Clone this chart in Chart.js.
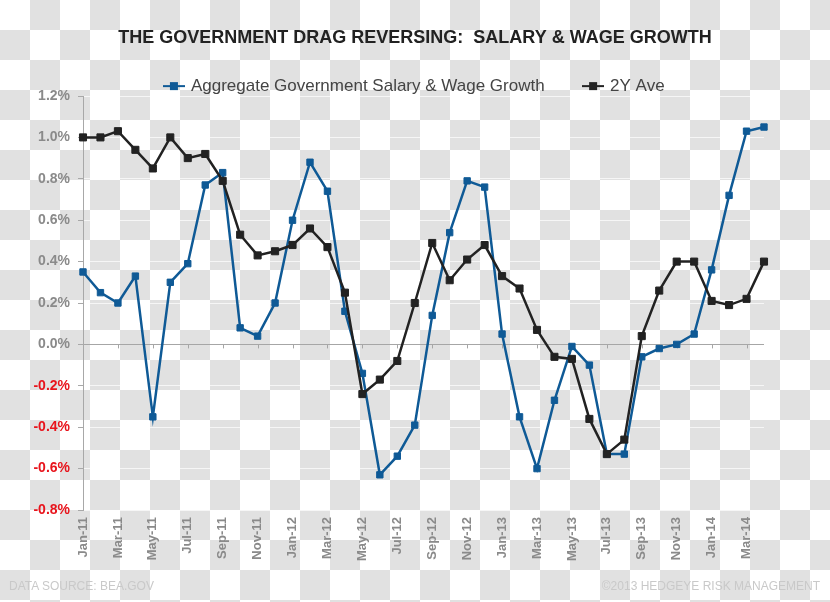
<!DOCTYPE html>
<html>
<head>
<meta charset="utf-8">
<title>Government Salary & Wage Growth</title>
<script src="https://cdn.jsdelivr.net/npm/chart.js@4.4.1/dist/chart.umd.min.js"></script>
<style>
  html, body { margin: 0; padding: 0; }
  body {
    width: 830px;
    height: 602px;
    position: relative;
    overflow: hidden;
    background-color: #fff;
    background-image: conic-gradient(#e1e1e1 0 25%, #fff 0 50%, #e1e1e1 0 75%, #fff 0);
    background-size: 60px 60px;
    font-family: "Liberation Sans", Arial, sans-serif;
  }
  #wageChart { position: absolute; left: 0; top: 0; }
  .note { position: absolute; top: 579px; font-size: 12px; color: #c9c9c9; white-space: pre; }
</style>
</head>
<body>
<canvas id="wageChart" width="830" height="602"></canvas>
<div class="note" style="left:9px">DATA SOURCE: BEA.GOV</div>
<div class="note" style="right:10px">©2013 HEDGEYE RISK MANAGEMENT</div>

<script>
// monthly, Jan-11 .. Apr-14 (% growth)
const months = [
  'Jan-11', 'Feb-11', 'Mar-11', 'Apr-11', 'May-11', 'Jun-11', 'Jul-11', 'Aug-11', 'Sep-11', 'Oct-11', 'Nov-11', 'Dec-11',
  'Jan-12', 'Feb-12', 'Mar-12', 'Apr-12', 'May-12', 'Jun-12', 'Jul-12', 'Aug-12', 'Sep-12', 'Oct-12', 'Nov-12', 'Dec-12',
  'Jan-13', 'Feb-13', 'Mar-13', 'Apr-13', 'May-13', 'Jun-13', 'Jul-13', 'Aug-13', 'Sep-13', 'Oct-13', 'Nov-13', 'Dec-13',
  'Jan-14', 'Feb-14', 'Mar-14', 'Apr-14'
]

const govGrowth = [
  0.35, 0.25, 0.20, 0.33, -0.35, 0.30, 0.39, 0.77, 0.83, 0.08, 0.04, 0.20,
  0.60, 0.88, 0.74, 0.16, -0.14, -0.63, -0.54, -0.39, 0.14, 0.54, 0.79, 0.76,
  0.05, -0.35, -0.60, -0.27, -0.01, -0.10, -0.53, -0.53, -0.06, -0.02, 0.00, 0.05,
  0.36, 0.72, 1.03, 1.05
]

const twoYearAvg = [
  1.00, 1.00, 1.03, 0.94, 0.85, 1.00, 0.90, 0.92, 0.79, 0.53, 0.43, 0.45,
  0.48, 0.56, 0.47, 0.25, -0.24, -0.17, -0.08, 0.20, 0.49, 0.31, 0.41, 0.48,
  0.33, 0.27, 0.07, -0.06, -0.07, -0.36, -0.53, -0.46, 0.04, 0.26, 0.40, 0.40,
  0.21, 0.19, 0.22, 0.40
]

const blue = '#0f5a96'
const black = '#222222'

// little line-with-square marker for the legend
function legendMarker(color) {
  const c = document.createElement('canvas')
  c.width = 22
  c.height = 10
  const g = c.getContext('2d')
  g.fillStyle = color
  g.fillRect(0, 4, 22, 2)
  g.fillRect(7, 1, 8, 8)
  return c
}

// small tick marks hanging off the zero line
const zeroTicks = {
  id: 'zeroTicks',
  beforeDatasetsDraw(chart) {
    const x = chart.scales.x
    const y0 = chart.scales.y.getPixelForValue(0)
    const ctx = chart.ctx
    ctx.save()
    ctx.strokeStyle = '#a6a6a6'
    ctx.lineWidth = 1
    ctx.beginPath()
    for (let i = 2; i < months.length; i += 2) {
      const px = Math.round(x.getPixelForValue(i)) + 0.5
      ctx.moveTo(px, y0)
      ctx.lineTo(px, y0 + 4)
    }
    ctx.stroke()
    ctx.restore()
  }
}

Chart.defaults.font.family = "'Liberation Sans', Arial, sans-serif"

new Chart(document.getElementById('wageChart'), {
  type: 'line',
  data: {
    labels: months,
    datasets: [{
      label: 'Aggregate Government Salary & Wage Growth',
      data: govGrowth,
      borderColor: blue,
      backgroundColor: blue,
      borderWidth: 2.5,
      pointStyle: 'rect',
      pointRadius: 4.5,
      pointBorderWidth: 1,
      tension: 0,
      order: 1
    },
    {
      label: '2Y Ave',
      data: twoYearAvg,
      borderColor: black,
      backgroundColor: black,
      borderWidth: 2.5,
      pointStyle: 'rect',
      pointRadius: 5,
      pointBorderWidth: 1,
      tension: 0,
      order: 0
    }]
  },
  options: {
    responsive: false,
    animation: false,
    devicePixelRatio: 1,
    layout: {
      padding: 0
    },
    scales: {
      x: {
        offset: false,
        grid: { display: false, drawTicks: false },
        border: { display: false },
        ticks: {
          autoSkip: false,
          maxRotation: 90,
          minRotation: 90,
          padding: 7,
          color: '#8a8a8a',
          font: { size: 13, weight: 'bold' },
          callback: function(value, index) {
            return index % 2 === 0 ? months[index] : ''
          }
        },
        afterFit: function(scale) {
          scale.height = 92
        }
      },
      y: {
        min: -0.8,
        max: 1.2,
        border: { display: true, color: '#a8a8a8' },
        grid: {
          color: (c) => c.tick.value === 0 ? '#a6a6a6' : 'rgba(255, 255, 255, 0.7)',
          tickColor: '#a8a8a8',
          tickLength: 5
        },
        ticks: {
          stepSize: 0.2,
          padding: 8,
          font: { size: 14, weight: 'bold' },
          color: (c) => c.tick.value < -0.001 ? '#e8141c' : '#8a8a8a',
          callback: (v) => v.toFixed(1) + '%'
        },
        afterFit: function(scale) {
          scale.width = 83
        }
      },
      // empty right-hand axis, only there to leave the blank strip on the right
      // while the title and legend stay centred on the whole page
      spacer: {
        type: 'linear',
        position: 'right',
        display: true,
        min: -0.8,
        max: 1.2,
        grid: { display: false, drawTicks: false },
        border: { display: false },
        ticks: { display: false },
        afterFit: function(scale) {
          scale.width = 66
        }
      }
    },
    plugins: {
      title: {
        display: true,
        text: 'THE GOVERNMENT DRAG REVERSING:  SALARY & WAGE GROWTH',
        color: '#222',
        font: { size: 18, weight: 'bold' },
        padding: { top: 27, bottom: -11 }
      },
      legend: {
        display: true,
        position: 'top',
        maxHeight: 58.4,
        labels: {
          color: '#444',
          font: { size: 17 },
          usePointStyle: true,
          pointStyleWidth: 17,
          padding: 40,
          generateLabels: function(chart) {
            const items = Chart.defaults.plugins.legend.labels.generateLabels(chart)
            items.sort((a, b) => a.datasetIndex - b.datasetIndex)
            items.forEach(item => {
              item.pointStyle = legendMarker(item.datasetIndex === 0 ? blue : black)
            })
            return items
          }
        }
      },
      tooltip: { enabled: false }
    }
  },
  plugins: [zeroTicks]
})
</script>
</body>
</html>
